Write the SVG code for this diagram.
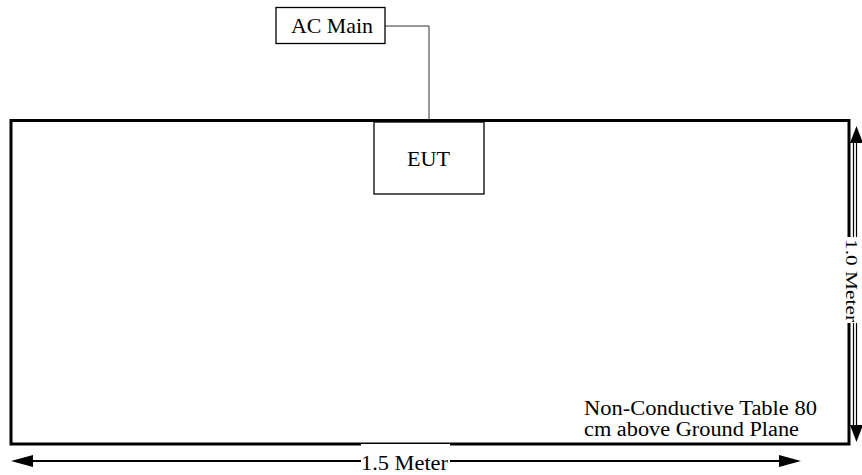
<svg xmlns="http://www.w3.org/2000/svg" width="862" height="475" viewBox="0 0 862 475">
<style>
.t{font-family:"Liberation Serif","Times New Roman","DejaVu Serif",serif;font-size:22px;fill:#000}
.s{font-size:20px}
.v{font-size:17px}
.box{fill:#fff;stroke:#000;stroke-width:1.3}
.ah{fill:#000}
</style>
<rect width="862" height="475" fill="#fff"/>
<g id="table">
<rect x="11" y="120.5" width="838" height="323.5" fill="#fff" stroke="#000" stroke-width="3"/>
<text class="t s" x="584" y="415" textLength="233" lengthAdjust="spacingAndGlyphs">Non-Conductive Table 80</text>
<text class="t s" x="584" y="436" textLength="215" lengthAdjust="spacingAndGlyphs">cm above Ground Plane</text>
</g>
<g id="connectors">
<path d="M385,26H429V120" fill="none" stroke="#333" stroke-width="1"/>
</g>
<g id="ac-main">
<rect class="box" x="276" y="7.5" width="109" height="36"/>
<text class="t" x="291" y="33" textLength="82" lengthAdjust="spacingAndGlyphs">AC Main</text>
</g>
<g id="eut">
<rect class="box" x="374" y="122" width="110" height="72"/>
<text class="t" x="407" y="166" textLength="43" lengthAdjust="spacingAndGlyphs">EUT</text>
</g>
<g id="dim-h">
<path d="M30,461H782" stroke="#000" stroke-width="2"/>
<path class="ah" d="M11,461L33,455V467z"/>
<path class="ah" d="M801,461L779,455V467z"/>
<rect x="361" y="444" width="89" height="29" fill="#fff"/>
<text class="t" x="361" y="470" textLength="87" lengthAdjust="spacingAndGlyphs">1.5 Meter</text>
</g>
<g id="dim-v">
<path d="M853.5,140V428M856.5,140V428" stroke="#000" stroke-width="1.2"/>
<path class="ah" d="M856.5,126L863,143H850z"/>
<path class="ah" d="M856.5,442L863,425H850z"/>
<rect x="845" y="237" width="17" height="86" fill="#fff"/>
<text class="t v" transform="translate(846,239) rotate(90)" textLength="83" lengthAdjust="spacingAndGlyphs">1.0 Meter</text>
</g>
</svg>
